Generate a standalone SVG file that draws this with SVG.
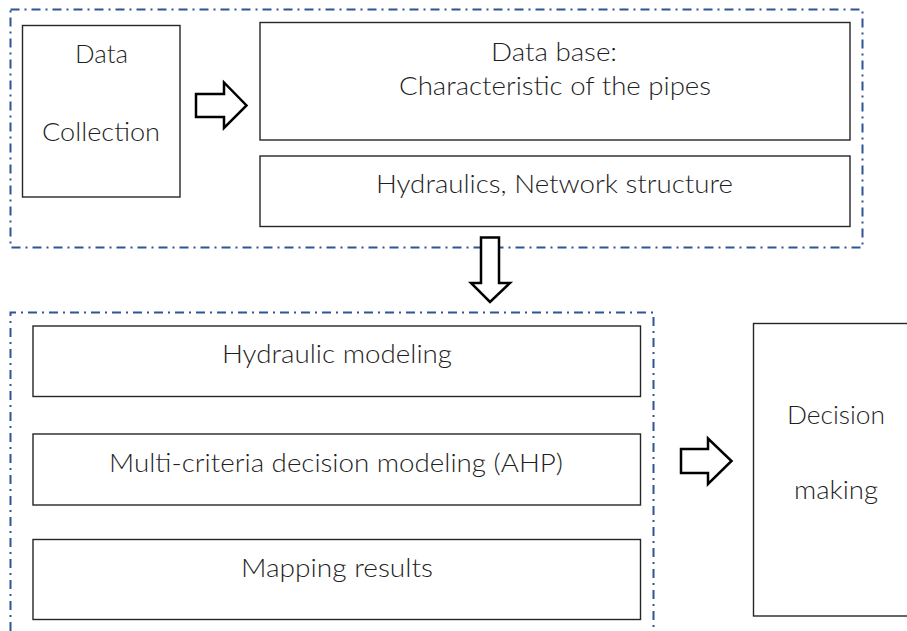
<svg xmlns="http://www.w3.org/2000/svg" width="907" height="631" viewBox="0 0 907 631">
<style>
.frame{fill:none;stroke:#2F5597;stroke-width:2;stroke-dasharray:9 5 2 5}
.box{fill:#fff;stroke:#262626;stroke-width:1.4}
.arrow{fill:#fff;stroke:#000;stroke-width:2.5;stroke-linejoin:miter}
text{font-family:"Lato","Open Sans","Liberation Sans",sans-serif;font-weight:300;font-size:25px;fill:#1f1f1f;text-anchor:middle}
</style>
<rect width="907" height="631" fill="#fff"/>
<g id="frame-top"><rect class="frame" x="10.5" y="9.5" width="852" height="238"/></g>
<g id="frame-bottom"><path class="frame" d="M10.5 631 V312.5 H653.5 V631"/></g>
<g id="data-collection">
<rect class="box" x="22.5" y="25.5" width="157.5" height="171.5"/>
<text x="101.5" y="63" textLength="53" lengthAdjust="spacingAndGlyphs">Data</text>
<text x="101" y="141" textLength="118" lengthAdjust="spacingAndGlyphs">Collection</text>
</g>
<g id="data-base">
<rect class="box" x="260" y="22.5" width="590" height="117.5"/>
<text x="554" y="61" textLength="126" lengthAdjust="spacingAndGlyphs">Data base:</text>
<text x="555" y="95" textLength="312" lengthAdjust="spacingAndGlyphs">Characteristic of the pipes</text>
</g>
<g id="hydraulics">
<rect class="box" x="260" y="156" width="590" height="70.5"/>
<text x="554.5" y="193" textLength="357" lengthAdjust="spacingAndGlyphs">Hydraulics, Network structure</text>
</g>
<g id="hydraulic-modeling">
<rect class="box" x="33" y="326" width="607.5" height="70.5"/>
<text x="337" y="363" textLength="230" lengthAdjust="spacingAndGlyphs">Hydraulic modeling</text>
</g>
<g id="mcdm">
<rect class="box" x="33" y="434" width="607.5" height="71"/>
<text x="336" y="472" textLength="454" lengthAdjust="spacingAndGlyphs">Multi-criteria decision modeling (AHP)</text>
</g>
<g id="mapping">
<rect class="box" x="33" y="539.5" width="607.5" height="80"/>
<text x="337" y="577" textLength="192" lengthAdjust="spacingAndGlyphs">Mapping results</text>
</g>
<g id="decision">
<rect class="box" x="753.5" y="323.5" width="170" height="292.5"/>
<text x="836" y="424" textLength="98" lengthAdjust="spacingAndGlyphs">Decision</text>
<text x="836" y="499" textLength="84" lengthAdjust="spacingAndGlyphs">making</text>
</g>
<g id="connectors">
<path class="arrow" d="M196 94 H224 V82.5 L246.5 105.5 L224 128 V117 H196 Z"/>
<path class="arrow" d="M481 237.5 H499 V283 H510 L490 302 L471 283 H481 Z"/>
<path class="arrow" d="M681 449 H708 V438.5 L731.5 461 L708 484 V473 H681 Z"/>
</g>
</svg>
